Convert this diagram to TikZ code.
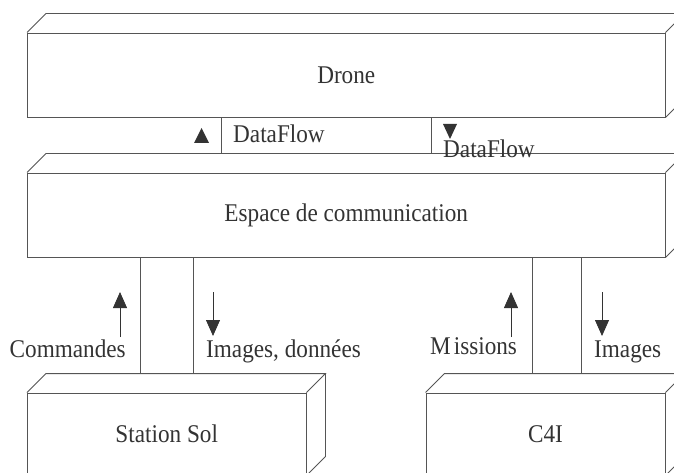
\documentclass[tikz,border=0pt]{standalone}
\usepackage{fontspec}
\setmainfont{Liberation Serif}[FakeStretch=0.91]
\usetikzlibrary{arrows.meta,calc}
\definecolor{linec}{HTML}{555555}
\definecolor{textc}{HTML}{333333}
\tikzset{
  boxline/.style={draw=linec, line width=0.9pt},
  frontbox/.style={boxline, rectangle, inner sep=0pt, text=textc, font=\fontsize{25.5}{29}\selectfont},
  link/.style={draw=linec, line width=0.8pt},
  flow/.style={draw=textc, line width=0.8pt, -{Triangle[length=16pt,width=14pt]}},
  lab/.style={text=textc, inner sep=0pt, anchor=base west, font=\fontsize{25.5}{29}\selectfont},
  tri/.style={fill=textc}
}
\newcommand\boxdepth[1]{%
  \draw[boxline] (#1.north west) -- ++(19,-19) -- ($(#1.north east)+(19,-19)$) -- (#1.north east);
  \draw[boxline] ($(#1.north east)+(19,-19)$) -- ($(#1.south east)+(19,-19)$) -- (#1.south east);
}
\begin{document}
\begin{tikzpicture}[x=1pt,y=-1pt]
\useasboundingbox (0,0) rectangle (674,473);
\clip (0,0) rectangle (674,473);
% boxes
\node[frontbox, minimum width=637.5pt, minimum height=84pt] (drone) at (346.25,75) {Drone};
\node[frontbox, minimum width=637.5pt, minimum height=84pt] (esp) at (346.25,215) {Espace de communication};
\node[frontbox, minimum width=278.5pt, minimum height=82pt] (sol) at (166.75,434) {Station Sol};
\node[frontbox, minimum width=239pt, minimum height=82pt] (c4i) at (545.5,434) {C4I};
\boxdepth{drone}
\boxdepth{esp}
\boxdepth{sol}
\boxdepth{c4i}
% back edges
\coordinate (espback) at ($(esp.north)+(0,-19)$);
\coordinate (solback) at ($(sol.north)+(0,-19)$);
\coordinate (c4iback) at ($(c4i.north)+(0,-19)$);
\coordinate (x1) at (221,0);
\coordinate (x2) at (431,0);
\coordinate (x3) at (140,0);
\coordinate (x4) at (193,0);
\coordinate (x5) at (532,0);
\coordinate (x6) at (581,0);
% connectors
\draw[link] (drone.south -| x1) -- (espback -| x1);
\draw[link] (drone.south -| x2) -- (espback -| x2);
\draw[link] (esp.south -| x3) -- (solback -| x3);
\draw[link] (esp.south -| x4) -- (solback -| x4);
\draw[link] (esp.south -| x5) -- (c4iback -| x5);
\draw[link] (esp.south -| x6) -- (c4iback -| x6);
% dataflow triangles
\fill[tri] (194,143) -- (209,143) -- (201.5,128) -- cycle;
\fill[tri] (443,124) -- (457,124) -- (450,139) -- cycle;
\node[lab] (df1) at (233,143) {DataFlow};
\node[lab] (df2) at (443,158) {DataFlow};
% arrows
\draw[flow] (120,337) -- (120,292);
\draw[flow] (213,292) -- (213,336);
\draw[flow] (511,337) -- (511,292);
\draw[flow] (602,292) -- (602,336);
\node[lab] (cmd) at (9.5,357) {Commandes};
\node[lab] (imgd) at (206,357) {Images, données};
\node[lab] (mis) at (430,354) {M\hspace{3pt}issions};
\node[lab] (img) at (594,357) {Images};
\end{tikzpicture}
\end{document}
